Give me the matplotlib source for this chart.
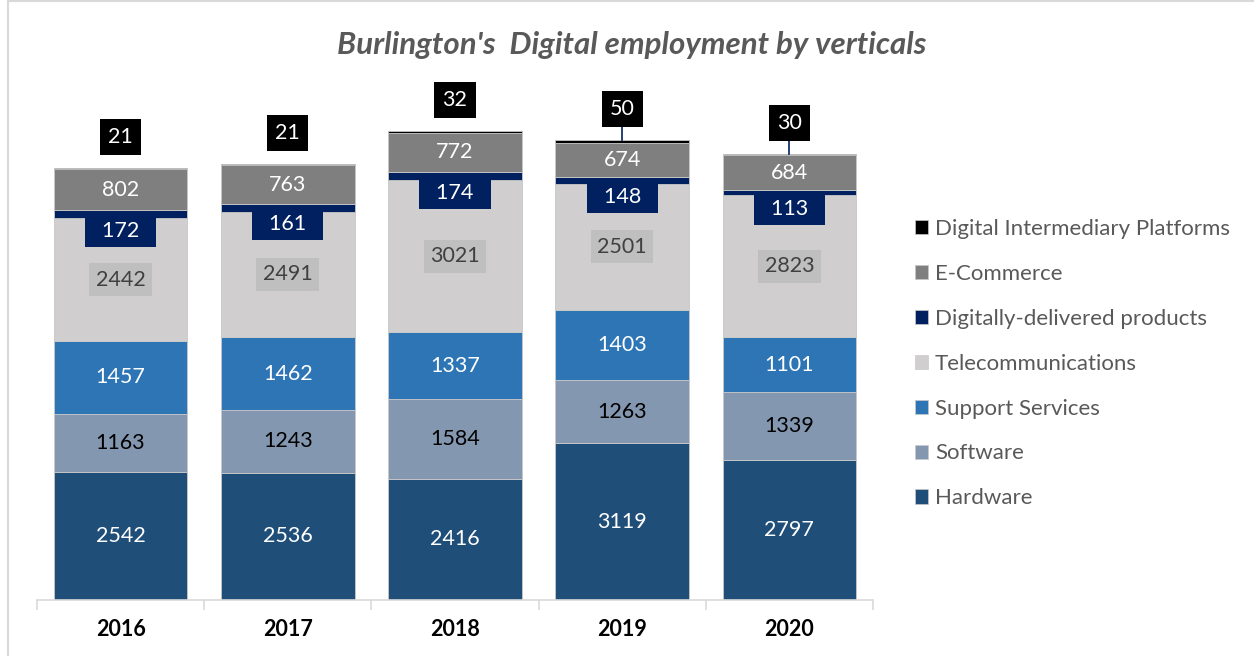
import matplotlib.pyplot as plt
from matplotlib.lines import Line2D
from matplotlib.patches import Patch

plt.rcParams['font.family'] = ['Lato', 'DejaVu Sans']

years = ['2016', '2017', '2018', '2019', '2020']
hardware = [2542, 2536, 2416, 3119, 2797]
software = [1163, 1243, 1584, 1263, 1339]
support = [1457, 1462, 1337, 1403, 1101]
telecom = [2442, 2491, 3021, 2501, 2823]
digital_products = [172, 161, 174, 148, 113]
ecommerce = [802, 763, 772, 674, 684]
platforms = [21, 21, 32, 50, 30]

series_names = ['Hardware', 'Software', 'Support Services', 'Telecommunications',
                'Digitally-delivered products', 'E-Commerce', 'Digital Intermediary Platforms']
series = [hardware, software, support, telecom, digital_products, ecommerce, platforms]
colors = ['#1f4e79', '#8497b0', '#2e75b6', '#d0cece', '#002060', '#7f7f7f', '#000000']

fig = plt.figure(figsize=(12.54, 6.56), dpi=100)
ax = fig.add_axes([37 / 1254, 56 / 656, 836 / 1254, 502 / 656])

fs = 15.5
x = list(range(len(years)))
bottoms = [0] * len(years)
seg_bottoms = []
for vals, name, col in zip(series, series_names, colors):
    ax.bar(x, vals, 0.8, bottom=bottoms, color=col, edgecolor='#c8c8c8',
           linewidth=0.6, label=name, zorder=2)
    seg_bottoms.append(list(bottoms))
    bottoms = [b + v for b, v in zip(bottoms, vals)]

# segment labels
for i in x:
    # hardware, software, support: centred, plain
    for k, tc in [(0, 'white'), (1, 'black'), (2, 'white')]:
        yc = seg_bottoms[k][i] + series[k][i] / 2
        ax.text(i, yc, str(series[k][i]), ha='center', va='center',
                color=tc, fontsize=fs, zorder=5)
    # telecom with light grey box
    yc = seg_bottoms[3][i] + telecom[i] / 2
    ax.text(i, yc, str(telecom[i]), ha='center', va='center', color='#404040',
            fontsize=fs, zorder=5,
            bbox=dict(boxstyle='square,pad=0.3', fc='#bfbfbf', ec='none'))
    # digitally-delivered: box hanging below the thin segment
    yc = seg_bottoms[4][i] + digital_products[i] / 2 - 330
    ax.text(i, yc, '  ' + str(digital_products[i]) + '  ', ha='center', va='center',
            color='white', fontsize=fs, zorder=5,
            bbox=dict(boxstyle='square,pad=0.28', fc='#002060', ec='none'))
    # e-commerce
    yc = seg_bottoms[5][i] + ecommerce[i] / 2
    ax.text(i, yc, str(ecommerce[i]), ha='center', va='center', color='white',
            fontsize=fs, zorder=6,
            bbox=dict(boxstyle='square,pad=0.15', fc='#7f7f7f', ec='none'))
    # platforms above the bar
    top = bottoms[i]
    ylab = top + 620
    if years[i] in ('2019', '2020'):
        ax.plot([i, i], [top, ylab], color='#002060', lw=1.2, zorder=3)
    ax.text(i, ylab, str(platforms[i]), ha='center', va='center', color='white',
            fontsize=fs, zorder=6,
            bbox=dict(boxstyle='square,pad=0.38', fc='black', ec='none'))

ax.set_xlim(-0.5, 4.5)
ax.set_ylim(0, 10000)
ax.set_yticks([])
for s in ['top', 'right', 'left']:
    ax.spines[s].set_visible(False)
ax.spines['bottom'].set_color('#d9d9d9')
ax.spines['bottom'].set_linewidth(1.2)
ax.set_xticks(x)
ax.set_xticklabels(years, fontsize=15.5, fontweight='bold', color='black')
ax.tick_params(axis='x', which='major', length=0, pad=14)
ax.set_xticks([i - 0.5 for i in range(len(years) + 1)], minor=True)
ax.tick_params(axis='x', which='minor', length=7, color='#d9d9d9', width=1.2)

fig.text(0.504, 0.932, "Burlington's  Digital employment by verticals", ha='center',
         va='center', fontsize=22.5, fontweight='bold', fontstyle='italic', color='#595959')

handles = [Patch(facecolor=c, edgecolor='#c8c8c8', linewidth=0.5) for c in colors[::-1]]
leg = fig.legend(handles, series_names[::-1], loc='upper left',
                 bbox_to_anchor=(895 / 1254, 1 - 199 / 656), frameon=False,
                 fontsize=16, labelspacing=1.12, handlelength=0.6,
                 handleheight=0.6, handletextpad=0.3)
for t in leg.get_texts():
    t.set_color('#595959')

# outer frame
fig.add_artist(Line2D([8 / 1254, 8 / 1254], [0, 1], color='#d9d9d9', lw=1.5,
                      transform=fig.transFigure))
fig.add_artist(Line2D([8 / 1254, 1], [0.999, 0.999], color='#d9d9d9', lw=1.5,
                      transform=fig.transFigure))

fig.savefig('out.png', dpi=100)
